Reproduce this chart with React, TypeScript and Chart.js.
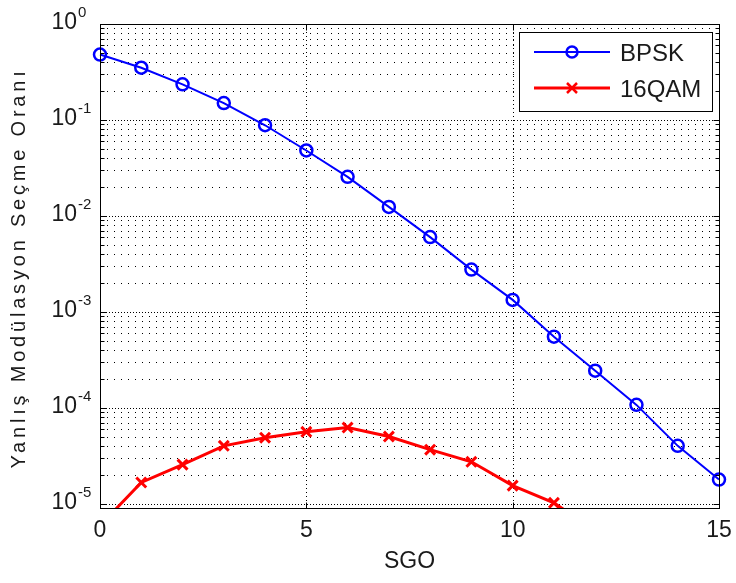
import React, { useEffect, useRef } from "react";
import { Chart, registerables } from "chart.js";

Chart.register(...registerables);

// ---- data ----
const snrBpsk = [0, 1, 2, 3, 4, 5, 6, 7, 8, 9, 10, 11, 12, 13, 14, 15];
const bpskValues = [0.48, 0.35, 0.235, 0.15, 0.088, 0.048, 0.0255, 0.0124, 0.006, 0.00275, 0.00133, 0.00055, 0.000243, 0.000107, 4.0e-5, 1.78e-5];
const snrQam = [0, 1, 2, 3, 4, 5, 6, 7, 8, 9, 10, 11, 12];
const qamValues = [5.9e-6, 1.66e-5, 2.55e-5, 4.0e-5, 4.87e-5, 5.6e-5, 6.2e-5, 5.0e-5, 3.65e-5, 2.73e-5, 1.54e-5, 1.02e-5, 5.2e-6];
const seriesNames = ["BPSK", "16QAM"];
const xTicks = [0, 5, 10, 15];
const xTickLabels = ["0", "5", "10", "15"];
const yMajorTicks = [1e-5, 1e-4, 1e-3, 1e-2, 1e-1, 1];
const yTickExponents = ["-5", "-4", "-3", "-2", "-1", "0"];
const xTitle = "SGO";
const yTitle = "Yanlış Modülasyon Seçme Oranı";

const FONT = "'Liberation Sans', Arial, Helvetica, sans-serif";
const BLUE = "#0000ff";
const RED = "#ff0000";

function minorValues(): number[] {
  const out: number[] = [];
  for (const m of yMajorTicks) {
    for (let k = 2; k <= 9; k++) out.push(m * k);
  }
  return out;
}

const matlabPlugin = {
  id: "matlabLook",
  beforeDatasetsDraw(chart: any) {
    const { ctx, chartArea: a, scales } = chart;
    const x = scales.x;
    const y = scales.y;
    ctx.save();
    ctx.strokeStyle = "#000";
    ctx.lineWidth = 1;
    // minor y grid
    ctx.setLineDash([1, 6]);
    for (const v of minorValues()) {
      if (v < y.min || v > y.max) continue;
      const py = Math.round(y.getPixelForValue(v)) + 0.5;
      ctx.beginPath();
      ctx.moveTo(a.left, py);
      ctx.lineTo(a.right, py);
      ctx.stroke();
    }
    // major y grid
    ctx.setLineDash([1, 2]);
    for (const v of yMajorTicks) {
      if (v < y.min || v > y.max) continue;
      const py = Math.round(y.getPixelForValue(v)) + 0.5;
      ctx.beginPath();
      ctx.moveTo(a.left, py);
      ctx.lineTo(a.right, py);
      ctx.stroke();
    }
    // x grid
    ctx.setLineDash([1, 3]);
    for (const v of xTicks) {
      if (v <= x.min || v >= x.max) continue;
      const px = Math.round(x.getPixelForValue(v)) + 0.5;
      ctx.beginPath();
      ctx.moveTo(px, a.top);
      ctx.lineTo(px, a.bottom);
      ctx.stroke();
    }
    ctx.restore();
  },
  afterDatasetsDraw(chart: any) {
    const { ctx, chartArea: a, scales } = chart;
    const x = scales.x;
    const y = scales.y;
    ctx.save();
    ctx.setLineDash([]);
    ctx.strokeStyle = "#000";
    ctx.lineWidth = 1;
    const L = Math.round(a.left) + 0.5;
    const R = Math.round(a.right) + 0.5;
    const T = Math.round(a.top) + 0.5;
    const B = Math.round(a.bottom) + 0.5;
    ctx.strokeRect(L, T, R - L, B - T);

    // y ticks
    ctx.beginPath();
    for (const v of minorValues()) {
      if (v < y.min || v > y.max) continue;
      const py = Math.round(y.getPixelForValue(v)) + 0.5;
      ctx.moveTo(L, py); ctx.lineTo(L + 4, py);
      ctx.moveTo(R, py); ctx.lineTo(R - 4, py);
    }
    for (const v of yMajorTicks) {
      if (v < y.min || v > y.max) continue;
      const py = Math.round(y.getPixelForValue(v)) + 0.5;
      ctx.moveTo(L, py); ctx.lineTo(L + 6, py);
      ctx.moveTo(R, py); ctx.lineTo(R - 6, py);
    }
    for (const v of xTicks) {
      const px = Math.round(x.getPixelForValue(v)) + 0.5;
      ctx.moveTo(px, B); ctx.lineTo(px, B - 6);
      ctx.moveTo(px, T); ctx.lineTo(px, T + 6);
    }
    ctx.stroke();

    // y tick labels 10^n
    ctx.fillStyle = "#1a1a1a";
    yMajorTicks.forEach((v, i) => {
      const py = y.getPixelForValue(v);
      ctx.font = `23px ${FONT}`;
      ctx.textAlign = "right";
      ctx.textBaseline = "middle";
      ctx.fillText("10", 77, py - 1);
      ctx.font = `15px ${FONT}`;
      ctx.textAlign = "left";
      ctx.textBaseline = "alphabetic";
      ctx.fillText(yTickExponents[i], 78, py - 7);
    });

    // x tick labels
    ctx.font = `23px ${FONT}`;
    ctx.textAlign = "center";
    ctx.textBaseline = "alphabetic";
    xTicks.forEach((v, i) => {
      ctx.fillText(xTickLabels[i], x.getPixelForValue(v), 537);
    });

    // x title
    ctx.fillText(xTitle, (a.left + a.right) / 2, 568);

    // y title
    ctx.save();
    ctx.translate(19, 268);
    ctx.rotate(-Math.PI / 2);
    ctx.font = `20px ${FONT}`;
    (ctx as any).letterSpacing = "3.8px";
    ctx.textAlign = "center";
    ctx.textBaseline = "middle";
    ctx.fillText(yTitle, 0, 0);
    ctx.restore();

    // legend
    const bx = 519.5, by = 32.5, bw = 193, bh = 79;
    ctx.fillStyle = "#fff";
    ctx.fillRect(bx, by, bw, bh);
    ctx.strokeStyle = "#000";
    ctx.lineWidth = 1;
    ctx.strokeRect(bx, by, bw, bh);
    const rows = [
      { y: 52, color: BLUE, marker: "circle", lw: 2 },
      { y: 88, color: RED, marker: "x", lw: 3 },
    ];
    rows.forEach((r, i) => {
      ctx.strokeStyle = r.color;
      ctx.lineWidth = r.lw;
      ctx.beginPath();
      ctx.moveTo(534, r.y);
      ctx.lineTo(610, r.y);
      ctx.stroke();
      ctx.lineWidth = 2.5;
      ctx.beginPath();
      if (r.marker === "circle") {
        ctx.arc(572, r.y, 5.5, 0, Math.PI * 2);
      } else {
        ctx.moveTo(567, r.y - 5); ctx.lineTo(577, r.y + 5);
        ctx.moveTo(577, r.y - 5); ctx.lineTo(567, r.y + 5);
      }
      ctx.stroke();
      ctx.fillStyle = "#1a1a1a";
      ctx.font = `24px ${FONT}`;
      ctx.textAlign = "left";
      ctx.textBaseline = "alphabetic";
      ctx.fillText(seriesNames[i], 620, r.y + 9);
    });
    ctx.restore();
  },
};

export default function App() {
  const ref = useRef<HTMLCanvasElement | null>(null);
  useEffect(() => {
    if (!ref.current) return;
    const chart = new Chart(ref.current, {
      type: "line",
      data: {
        datasets: [
          {
            label: seriesNames[0],
            data: snrBpsk.map((s, i) => ({ x: s, y: bpskValues[i] })),
            borderColor: BLUE,
            backgroundColor: "rgba(0,0,0,0)",
            borderWidth: 2,
            pointStyle: "circle",
            pointRadius: 6,
            pointBorderWidth: 2.5,
            pointBorderColor: BLUE,
            pointBackgroundColor: "rgba(0,0,0,0)",
            tension: 0,
            clip: false as any,
          },
          {
            label: seriesNames[1],
            data: snrQam.map((s, i) => ({ x: s, y: qamValues[i] })),
            borderColor: RED,
            backgroundColor: "rgba(0,0,0,0)",
            borderWidth: 3,
            pointStyle: "crossRot",
            pointRadius: 7,
            pointBorderWidth: 3,
            pointBorderColor: RED,
            tension: 0,
            clip: { left: 10, right: 10, top: 0, bottom: 0 } as any,
          },
        ],
      },
      options: {
        animation: false,
        responsive: false,
        devicePixelRatio: 1,
        layout: { padding: { left: 0, right: 17, top: 24, bottom: 0 } },
        plugins: { legend: { display: false }, tooltip: { enabled: false } },
        scales: {
          x: {
            type: "linear",
            min: 0,
            max: 15,
            grid: { display: false },
            border: { display: false },
            ticks: { display: false },
            afterFit: (s: any) => { s.height = 75; },
          },
          y: {
            type: "logarithmic",
            min: 9e-6,
            max: 1,
            grid: { display: false },
            border: { display: false },
            ticks: { display: false },
            afterFit: (s: any) => { s.width = 100; },
          },
        },
      } as any,
      plugins: [matlabPlugin],
    });
    return () => chart.destroy();
  }, []);
  return (
    <div style={{ position: "fixed", left: 0, top: 0, width: 736, height: 583, background: "#fff" }}>
      <canvas ref={ref} width={736} height={583} style={{ display: "block" }} />
    </div>
  );
}
